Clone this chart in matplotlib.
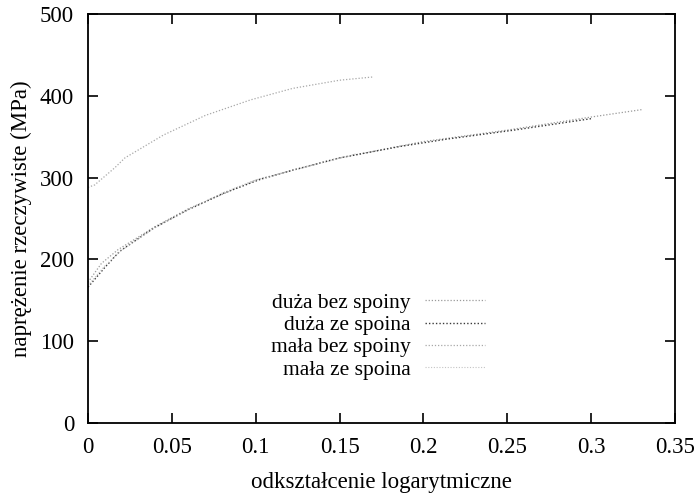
import matplotlib
matplotlib.use("Agg")
import matplotlib.pyplot as plt

plt.rcParams['font.family'] = ['Liberation Serif', 'DejaVu Serif']

# curves
x_duza_bez = [0, 0.008, 0.018, 0.04, 0.06, 0.1, 0.15, 0.2, 0.25, 0.3, 0.33]
y_duza_bez = [172, 195, 212, 240, 262, 297, 324, 344, 358, 374, 383]

x_duza_ze = [0, 0.01, 0.019, 0.039, 0.059, 0.081, 0.103, 0.122, 0.15, 0.186, 0.214, 0.254, 0.30]
y_duza_ze = [166, 190, 210, 238, 260, 281, 298, 309, 324, 338, 347, 358, 372]

x_mala_bez = [0, 0.004, 0.016, 0.022, 0.045, 0.07, 0.097, 0.122, 0.15, 0.17]
y_mala_bez = [288, 291, 312, 324, 352, 376, 395, 409, 419, 423]

x_mala_ze = [0, 0.01, 0.02, 0.04, 0.06, 0.08, 0.1, 0.13, 0.16]
y_mala_ze = [168, 192, 211, 239, 261, 281, 297, 313, 329]

labels = ["duża bez spoiny", "duża ze spoina", "mała bez spoiny", "mała ze spoina"]
xticks = [0, 0.05, 0.1, 0.15, 0.2, 0.25, 0.3, 0.35]
xticklabels = ["0", "0.05", "0.1", "0.15", "0.2", "0.25", "0.3", "0.35"]
yticks = [0, 100, 200, 300, 400, 500]

fs = 16.5
fig = plt.figure(figsize=(6.96, 4.95), dpi=100)
ax = fig.add_axes([0.1264, 0.1455, 0.8434, 0.8263])

dot = (0, (1, 1.5))
ax.plot(x_duza_bez, y_duza_bez, color="#9a9a9a", lw=0.9, ls=dot, label=labels[0])
ax.plot(x_duza_ze, y_duza_ze, color="#3a3a3a", lw=1.0, ls=dot, label=labels[1])
ax.plot(x_mala_bez, y_mala_bez, color="#a8a8a8", lw=0.9, ls=dot, label=labels[2])
ax.plot(x_mala_ze, y_mala_ze, color="#c4c4c4", lw=0.8, ls=dot, label=labels[3])

ax.set_xlim(0, 0.35)
ax.set_ylim(0, 500)
ax.set_xticks(xticks)
ax.set_xticklabels(xticklabels)
ax.set_yticks(yticks)
ax.tick_params(direction="in", length=7, width=1.2, top=True, right=True,
               labelsize=fs, colors="black")
ax.tick_params(axis="x", pad=10)
ax.tick_params(axis="y", pad=10)
for s in ax.spines.values():
    s.set_linewidth(1.3)

ax.set_xlabel("odkształcenie logarytmiczne", fontsize=fs, labelpad=10)
ax.set_ylabel("naprężenie rzeczywiste (MPa)", fontsize=fs, labelpad=6)

ax.legend(loc="upper right", bbox_to_anchor=(0.676, 0.318), frameon=False,
          markerfirst=False, fontsize=15.5, handlelength=2.8, handletextpad=0.65,
          labelspacing=0.1, borderpad=0, borderaxespad=0)

fig.savefig("out.png", dpi=100)
